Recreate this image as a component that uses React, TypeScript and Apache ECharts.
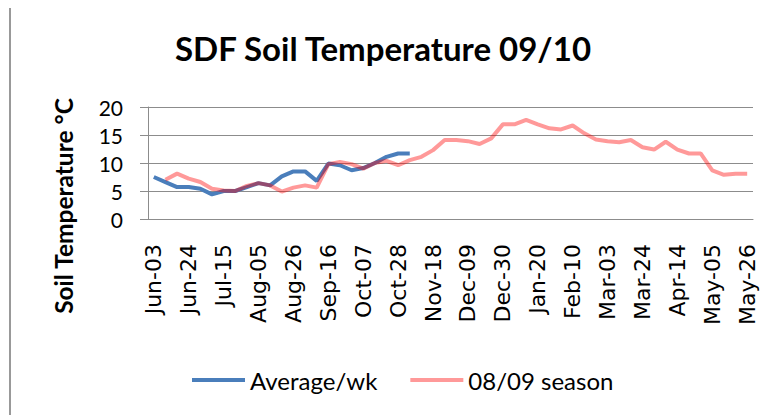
import React, { useEffect, useRef } from "react";
import * as echarts from "echarts";

const categories = [
  "Jun-03", "Jun-10", "Jun-17", "Jun-24", "Jul-01", "Jul-08", "Jul-15", "Jul-22", "Jul-29",
  "Aug-05", "Aug-12", "Aug-19", "Aug-26", "Sep-02", "Sep-09", "Sep-16", "Sep-23", "Sep-30",
  "Oct-07", "Oct-14", "Oct-21", "Oct-28", "Nov-04", "Nov-11", "Nov-18", "Nov-25",
  "Dec-02", "Dec-09", "Dec-16", "Dec-23", "Dec-30", "Jan-06", "Jan-13", "Jan-20", "Jan-27",
  "Feb-03", "Feb-10", "Feb-17", "Feb-24", "Mar-03", "Mar-10", "Mar-17", "Mar-24", "Mar-31",
  "Apr-07", "Apr-14", "Apr-21", "Apr-28", "May-05", "May-12", "May-19", "May-26",
];

const averageWk = [
  7.5, 6.6, 5.7, 5.7, 5.4, 4.4, 5.0, 5.0, 5.7, 6.4, 6.0, 7.6, 8.5, 8.5, 6.8, 9.9,
  9.6, 8.7, 9.1, 10.0, 11.1, 11.7, 11.7,
];

const season0809: (number | string)[] = [
  "-", 7.0, 8.1, 7.2, 6.6, 5.4, 5.1, 5.0, 5.9, 6.4, 6.0, 4.9, 5.6, 6.0, 5.6, 9.8,
  10.2, 9.8, 9.0, 10.0, 10.4, 9.6, 10.5, 11.1, 12.3, 14.1, 14.1, 13.9, 13.4, 14.4,
  16.9, 16.9, 17.7, 16.9, 16.2, 16.0, 16.7, 15.3, 14.2, 13.9, 13.7, 14.1, 12.8, 12.4,
  13.8, 12.4, 11.7, 11.7, 8.7, 7.9, 8.1, 8.1,
];

const yTicks = { min: 0, max: 20, interval: 5 };

export default function App() {
  const ref = useRef<HTMLDivElement>(null);
  useEffect(() => {
    if (!ref.current) return;
    const chart = echarts.init(ref.current, undefined, { renderer: "svg" });
    const gray = "#8c8c8c";
    chart.setOption({
      animation: false,
      backgroundColor: "#ffffff",
      title: {
        text: "SDF Soil Temperature 09/10",
        left: "center",
        top: 26,
        textStyle: { fontFamily: "Lato", fontWeight: "bold", fontSize: 33, color: "#000" },
      },
      legend: {
        bottom: 18,
        left: 187,
        icon: "rect",
        itemWidth: 53,
        itemHeight: 4,
        itemGap: 33,
        textStyle: { fontFamily: "Lato", fontSize: 24, color: "#000" },
        data: ["Average/wk", "08/09 season"],
      },
      grid: { left: 148, right: 13, top: 107, bottom: 196, containLabel: false },
      xAxis: {
        type: "category",
        data: categories,
        boundaryGap: true,
        axisLine: { lineStyle: { color: gray, width: 1 } },
        axisTick: { interval: 0, length: 7, lineStyle: { color: gray } },
        axisLabel: {
          interval: 2,
          rotate: 90,
          margin: 25,
          fontFamily: "DejaVu Sans",
          fontSize: 22,
          color: "#000",
        },
      },
      yAxis: {
        type: "value",
        min: yTicks.min,
        max: yTicks.max,
        interval: yTicks.interval,
        axisLine: { show: true, lineStyle: { color: gray, width: 1 } },
        axisTick: { show: true, length: 8, lineStyle: { color: gray } },
        axisLabel: { margin: 25, fontFamily: "Lato", fontSize: 21, color: "#000" },
        splitLine: { lineStyle: { color: gray, width: 1 } },
      },
      series: [
        {
          name: "Average/wk",
          type: "line",
          data: averageWk,
          symbol: "none",
          lineStyle: { color: "#4a7ebb", width: 4 },
          itemStyle: { color: "#4a7ebb" },
          z: 2,
        },
        {
          name: "08/09 season",
          type: "line",
          data: season0809,
          symbol: "none",
          lineStyle: { color: "rgba(255,0,0,0.4)", width: 4 },
          itemStyle: { color: "rgba(255,0,0,0.4)" },
          z: 3,
        },
      ],
      graphic: [
        {
          type: "line",
          shape: { x1: 10, y1: 8, x2: 10, y2: 415 },
          style: { stroke: "#999", lineWidth: 2 },
        },
        {
          type: "text",
          x: 63,
          y: 206,
          rotation: Math.PI / 2,
          style: {
            text: "Soil Temperature °C",
            fontFamily: "Lato",
            fontWeight: "bold",
            fontSize: 24.5,
            fill: "#000",
            align: "center",
            verticalAlign: "middle",
          },
        },
      ],
    });
    return () => chart.dispose();
  }, []);
  return (
    <div
      ref={ref}
      style={{ position: "absolute", left: 0, top: 0, width: 766, height: 415 }}
    />
  );
}
